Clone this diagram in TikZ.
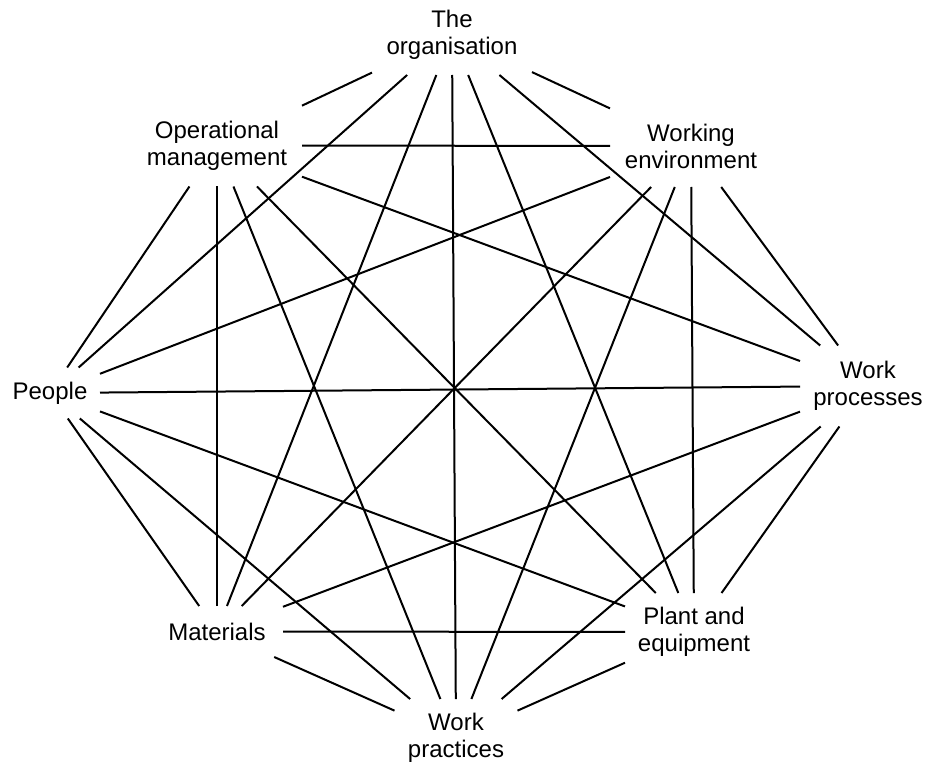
\documentclass[tikz,border=0pt]{standalone}
\usepackage{fontspec}
\setmainfont{Liberation Sans}
\begin{document}
\begin{tikzpicture}[x=1pt,y=-1pt,
  lbl/.style={inner sep=0pt, outer sep=0pt, align=center, font=\fontsize{24}{27}\selectfont},
  link/.style={line width=2pt, black}]
\useasboundingbox (0,0) rectangle (925,767);
\node[lbl, minimum width=160pt, minimum height=80pt] (org)   at (452,35)    {The\\organisation};
\node[lbl, minimum width=162pt, minimum height=82pt] (wenv)  at (691,146)   {Working\\environment};
\node[lbl, minimum width=136pt, minimum height=81pt] (proc)  at (868,386)   {Work\\processes};
\node[lbl, minimum width=138pt, minimum height=78pt] (plant) at (694,632)   {Plant and\\equipment};
\node[lbl, minimum width=123pt, minimum height=78pt] (prac)  at (456,738)   {Work\\practices};
\node[lbl, minimum width=132pt, minimum height=51pt] (mat)   at (217,631.5) {Materials};
\node[lbl, minimum width=100pt, minimum height=51pt] (ppl)   at (50,393)    {People};
\node[lbl, minimum width=170pt, minimum height=82pt] (opm)   at (217,145.5) {Operational\\management};
% all pairs
\draw[link] (org) -- (wenv);
\draw[link] (org) -- (proc);
\draw[link] (org) -- (plant);
\draw[link] (org) -- (prac);
\draw[link] (org) -- (mat);
\draw[link] (org) -- (ppl);
\draw[link] (org) -- (opm);
\draw[link] (wenv) -- (proc);
\draw[link] (wenv) -- (plant);
\draw[link] (wenv) -- (prac);
\draw[link] (wenv) -- (mat);
\draw[link] (wenv) -- (ppl);
\draw[link] (wenv) -- (opm);
\draw[link] (proc) -- (plant);
\draw[link] (proc) -- (prac);
\draw[link] (proc) -- (mat);
\draw[link] (proc) -- (ppl);
\draw[link] (proc) -- (opm);
\draw[link] (plant) -- (prac);
\draw[link] (plant) -- (mat);
\draw[link] (plant) -- (ppl);
\draw[link] (plant) -- (opm);
\draw[link] (prac) -- (mat);
\draw[link] (prac) -- (ppl);
\draw[link] (prac) -- (opm);
\draw[link] (mat) -- (ppl);
\draw[link] (mat) -- (opm);
\draw[link] (ppl) -- (opm);
\end{tikzpicture}
\end{document}
